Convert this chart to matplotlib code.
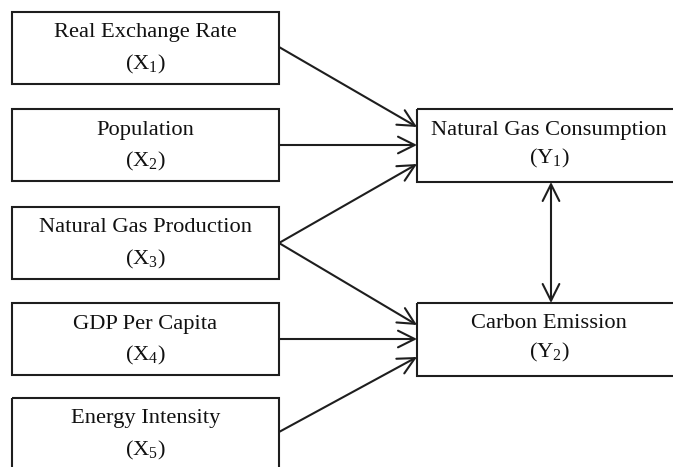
import matplotlib
matplotlib.use("Agg")
import matplotlib.pyplot as plt
from matplotlib.patches import Rectangle, FancyArrowPatch

plt.rcParams['font.family'] = ['Liberation Serif', 'DejaVu Serif']
plt.rcParams['mathtext.fontset'] = 'custom'
plt.rcParams['mathtext.rm'] = 'Liberation Serif'
plt.rcParams['mathtext.it'] = 'Liberation Serif:italic'

# Data: node names and symbols
left_names = ["Real Exchange Rate", "Population", "Natural Gas Production",
              "GDP Per Capita", "Energy Intensity"]
left_symbols = ["X", "X", "X", "X", "X"]
left_subs = ["1", "2", "3", "4", "5"]
right_names = ["Natural Gas Consumption", "Carbon Emission"]
right_symbols = ["Y", "Y"]
right_subs = ["1", "2"]
# edges: (left index, right index)
edges = [(0, 0), (1, 0), (2, 0), (2, 1), (3, 1), (4, 1)]

# Layout (pixels)
W, H = 673, 467
left_x0, left_x1 = 12, 279
left_tops = [12, 109, 207, 303, 398]
box_h = 72
right_x0, right_x1 = 417, 682
right_tops = [109, 303]
edge_end_y = [127, 145, 164, 325, 339, 357]
left_start_y = [47, 145, 243, 339, 432]
dbl_x = 551

color = "#1e1e1e"
lw = 1.5

fig = plt.figure(figsize=(W / 100, H / 100), dpi=100)
ax = fig.add_axes([0, 0, 1, 1])
ax.set_xlim(0, W)
ax.set_ylim(H, 0)
ax.axis("off")

fs = 16.2
tc = "#111111"

for i, name in enumerate(left_names):
    top = left_tops[i]
    ax.add_patch(Rectangle((left_x0, top), left_x1 - left_x0, box_h,
                           fill=False, ec=color, lw=lw))
    cx = (left_x0 + left_x1) / 2
    cy = top + box_h / 2
    ax.text(cx, cy - 15, name, ha="center", va="center", fontsize=fs, color=tc)
    ax.text(cx, cy + 16, "(%s$_{\\mathrm{%s}}$)" % (left_symbols[i], left_subs[i]),
            ha="center", va="center", fontsize=fs, color=tc)

for j, name in enumerate(right_names):
    top = right_tops[j]
    ax.add_patch(Rectangle((right_x0, top), right_x1 - right_x0, box_h + 1,
                           fill=False, ec=color, lw=lw, clip_on=False))
    cx = 549
    cy = top + box_h / 2
    ax.text(cx, cy - 15, name, ha="center", va="center", fontsize=fs, color=tc)
    ax.text(cx, cy + 13, "(%s$_{\\mathrm{%s}}$)" % (right_symbols[j], right_subs[j]),
            ha="center", va="center", fontsize=fs, color=tc)

for k, (li, rj) in enumerate(edges):
    a = FancyArrowPatch((left_x1, left_start_y[li]), (right_x0, edge_end_y[k]),
                        arrowstyle="->,head_length=8,head_width=4",
                        color=color, lw=lw, shrinkA=0, shrinkB=0, mutation_scale=1.5)
    ax.add_patch(a)

a = FancyArrowPatch((dbl_x, right_tops[0] + box_h + 1), (dbl_x, right_tops[1]),
                    arrowstyle="<->,head_length=8,head_width=4",
                    color=color, lw=lw, shrinkA=0, shrinkB=0, mutation_scale=1.5)
ax.add_patch(a)

fig.savefig("out.png", dpi=100, facecolor="white")
